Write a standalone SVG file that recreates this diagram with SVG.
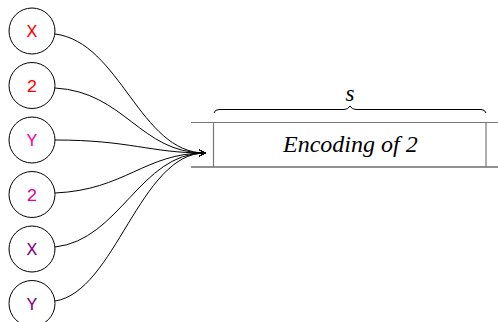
<svg xmlns="http://www.w3.org/2000/svg" width="498" height="322" viewBox="0 0 498 322">
<defs>
<marker id="arr" markerWidth="10" markerHeight="10" refX="8" refY="5" orient="auto" markerUnits="userSpaceOnUse">
<path d="M2,1.5 Q5,4 8.5,5 Q5,6 2,8.5" fill="none" stroke="#000" stroke-width="1"/>
</marker>
</defs>
<g id="n1"><circle cx="32" cy="31" r="23" fill="#fff" stroke="#000"/><text x="26.6" y="37" fill="#ff0000" font-size="18" font-family="'Liberation Mono'">X</text></g>
<g id="n2"><circle cx="32" cy="85.5" r="23" fill="#fff" stroke="#000"/><text x="26.6" y="91.5" fill="#ff0000" font-size="18" font-family="'Liberation Mono'">2</text></g>
<g id="n3"><circle cx="32" cy="140" r="23" fill="#fff" stroke="#000"/><text x="26.6" y="146" fill="#ff0099" font-size="18" font-family="'Liberation Mono'">Y</text></g>
<g id="n4"><circle cx="32" cy="194.5" r="23" fill="#fff" stroke="#000"/><text x="26.6" y="200.5" fill="#e6008a" font-size="18" font-family="'Liberation Mono'">2</text></g>
<g id="n5"><circle cx="32" cy="249" r="23" fill="#fff" stroke="#000"/><text x="26.6" y="255" fill="#800080" font-size="18" font-family="'Liberation Mono'">X</text></g>
<g id="n6"><circle cx="32" cy="303.5" r="23" fill="#fff" stroke="#000"/><text x="26.6" y="309.5" fill="#800080" font-size="18" font-family="'Liberation Mono'">Y</text></g>
<g id="connectors" fill="none" stroke="#000" stroke-width="1">
<path d="M55,34 C120,42 140,153 205,153" marker-end="url(#arr)"/>
<path d="M55,88 C125,92 140,153 205,153" marker-end="url(#arr)"/>
<path d="M55,140 C130,140 150,153 205,153" marker-end="url(#arr)"/>
<path d="M55,193 C125,190 145,153 205,153" marker-end="url(#arr)"/>
<path d="M55,247 C120,240 140,153 205,153" marker-end="url(#arr)"/>
<path d="M55,301 C115,292 140,153 205,153" marker-end="url(#arr)"/>
</g>
<g id="tape">
<g stroke-width="1.2" fill="none">
<line x1="191" y1="122.5" x2="498" y2="122.5" stroke="#777"/>
<line x1="191" y1="167" x2="498" y2="167" stroke="#222"/>
<line x1="213.5" y1="122.5" x2="213.5" y2="167" stroke="#777"/>
<line x1="486" y1="122.5" x2="486" y2="167" stroke="#777"/>
</g>
<text x="283" y="152" font-size="24" font-style="italic" font-family="'Liberation Serif'">Encoding of 2</text>
</g>
<g id="brace">
<path d="M214,113 Q215,109.5 219,109.5 L344,109.5 Q348,109.5 350,106 Q352,109.5 356,109.5 L481,109.5 Q485,109.5 486,113" fill="none" stroke="#000" stroke-width="1"/>
<text x="345.5" y="101" font-size="23" font-style="italic" font-family="'Liberation Serif'">s</text>
</g>
</svg>
